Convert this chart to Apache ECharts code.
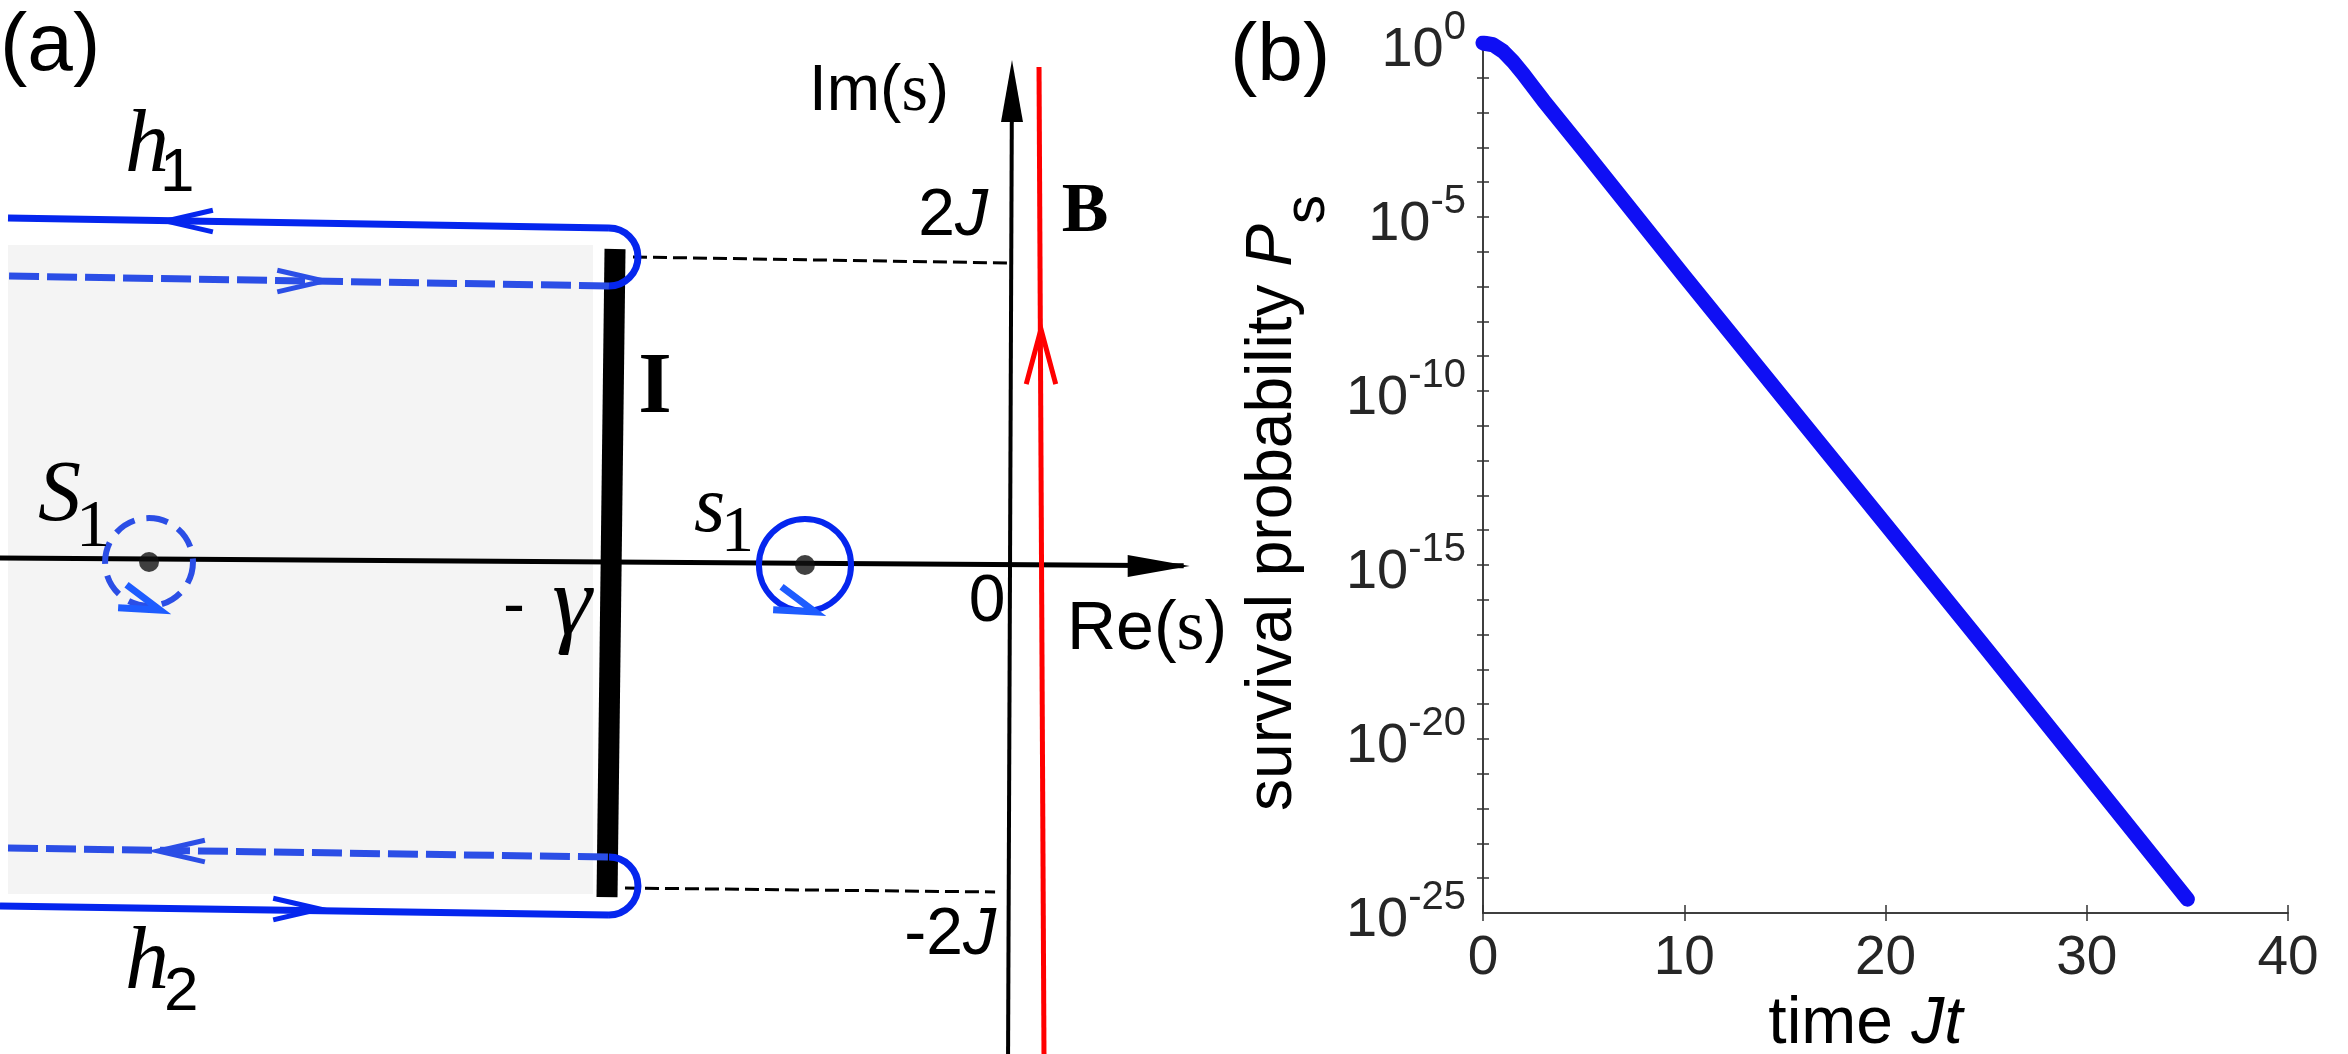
<!DOCTYPE html>
<html>
<head>
<meta charset="UTF-8">
<title>contour and survival probability</title>
<script src="https://cdn.jsdelivr.net/npm/echarts@6/dist/echarts.min.js"></script>
<style>
  html, body { margin: 0; padding: 0; background: #fff; }
</style>
</head>
<body>
	<div id="main" style="width: 2348px;height:1054px;"></div>
	<script type="text/javascript">
	// ---- panel (b): survival probability ----
	var timeJt   = [0, 0.5, 1, 1.5, 2, 2.5, 3, 5, 10, 15, 20, 25, 30, 35];
	var survival = [1, 0.891, 0.575, 0.288, 0.129, 0.0537, 0.0224, 8.3e-4, 2.0e-7, 5.4e-11, 1.48e-14, 4.0e-18, 1.0e-21, 2.5e-25];
	var xTicks = [0, 10, 20, 30, 40];
	var yLabelExp = [0, -5, -10, -15, -20, -25];

	// ---- panel (a): sketch of the s-plane, units of J ----
	var reAxis = [[-6.69, 0.026], [1.15, -0.024]];
	var imAxis = [[-0.013, -3.26], [0.012, 3.0]];
	var axisTips = [[1.19, -0.026, 0], [0.013, 3.325, -90]];
	var redLine = [[0.225, -3.26], [0.192, 3.278]];
	var redTip = [[0.205, 1.543, -90]];
	var branchCut = [[-2.669, -2.219], [-2.616, 2.073]];
	var shadedBox = [[-6.636, 2.099, -2.762, -2.199]];
	var h1Solid = [[-6.636, 2.278], [-2.656, 2.212]];
	var h1Dashed = [[-2.656, 1.828], [-6.636, 1.894]];
	var h2Dashed = [[-6.636, -1.894], [-2.656, -1.954]];
	var h2Solid = [[-2.656, -2.338], [-6.689, -2.278]];
	var turns = [[-2.656, 2.020, 0.192], [-2.656, -2.146, 0.192]];
	var guideTop = [[-2.497, 2.020], [0.007, 1.980]];
	var guideBottom = [[-2.550, -2.159], [-0.099, -2.185]];
	var solidTips = [[-5.589, 2.258, 180], [-4.570, -2.298, 0]];
	var dashedTips = [[-4.543, 1.861, 0], [-5.642, -1.914, 180]];
	var poles = [[-5.702, 0], [-1.358, -0.02]];
	var loopS1 = [[-5.702, 0, 0.291]];
	var loops1 = [[-1.358, -0.02, 0.305]];
	var loopTips = [[-5.629, -0.318, 20], [-1.291, -0.331, 20]];

	var BLUE = '#0526ee', BLUE_D = '#2b4ee6', BLUE_L = '#1e5cff';
	var SANS = 'Liberation Sans', SERIF = 'Liberation Serif';

	function seg(data, color, width, type, z) {
		return {
			type: 'line', xAxisIndex: 0, yAxisIndex: 0, data: data,
			showSymbol: false, silent: true, z: z,
			lineStyle: { color: color, width: width, type: type || 'solid', cap: 'butt' }
		};
	}
	function chevron(len, spread, color, width) {
		return function (params, api) {
			var tip = api.coord([api.value(0), api.value(1)]);
			var a = api.value(2) * Math.PI / 180, s = spread * Math.PI / 180;
			var p1 = [tip[0] - len * Math.cos(a - s), tip[1] - len * Math.sin(a - s)];
			var p2 = [tip[0] - len * Math.cos(a + s), tip[1] - len * Math.sin(a + s)];
			return { type: 'polyline', shape: { points: [p1, tip, p2] },
				style: { stroke: color, lineWidth: width, fill: null, lineJoin: 'miter' } };
		};
	}
	function headFilled(len, half) {
		return function (params, api) {
			var tip = api.coord([api.value(0), api.value(1)]);
			var a = api.value(2) * Math.PI / 180;
			var bx = tip[0] - len * Math.cos(a), by = tip[1] - len * Math.sin(a);
			var nx = -Math.sin(a) * half, ny = Math.cos(a) * half;
			return { type: 'polygon', shape: { points: [tip, [bx + nx, by + ny], [bx - nx, by - ny]] },
				style: { fill: '#000' } };
		};
	}
	function ring(color, width, dash) {
		return function (params, api) {
			var c = api.coord([api.value(0), api.value(1)]);
			var r = api.size([api.value(2), 0])[0];
			return { type: 'circle', shape: { cx: c[0], cy: c[1], r: r },
				style: { stroke: color, lineWidth: width, fill: null, lineDash: dash || null } };
		};
	}
	function custom(data, render, z) {
		return { type: 'custom', xAxisIndex: 0, yAxisIndex: 0, data: data, renderItem: render, silent: true, z: z };
	}

	function txt(x, y, text, font, size, align, extra) {
		var st = { text: text, fontFamily: font, fontSize: size, fill: '#000', align: align || 'left', verticalAlign: 'middle' };
		for (var k in extra) st[k] = extra[k];
		return { type: 'text', x: x, y: y, z: 100, style: st };
	}

	var chartDom = document.getElementById('main');
	var myChart = echarts.init(chartDom);

	var tickStyle = { color: '#333', width: 1.5 };
	var powRich = {
		b: { fontSize: 56, fontFamily: SANS, color: '#262626', padding: [16, 0, 0, 0] },
		s: { fontSize: 40, fontFamily: SANS, color: '#262626', padding: [0, 0, 30, 0] }
	};
	var option = {
		animation: false,
		backgroundColor: '#fff',
		grid: [
			{ left: 0, top: 0, width: 1240, height: 1054, outerBoundsMode: 'none', containLabel: false },
			{ left: 1483, top: 43, width: 805, height: 870, outerBoundsMode: 'none', containLabel: false }
		],
		xAxis: [
			{ gridIndex: 0, type: 'value', min: -6.689, max: 1.523, show: false },
			{ gridIndex: 1, type: 'value', min: xTicks[0], max: xTicks[xTicks.length - 1], interval: 10,
				axisLine: { lineStyle: tickStyle }, axisTick: { inside: true, length: 8, lineStyle: tickStyle },
				splitLine: { show: false },
				axisLabel: { fontSize: 55, fontFamily: SANS, color: '#262626', margin: 18, showMinLabel: true, showMaxLabel: true },
				name: '{a|time }{b|Jt}', nameLocation: 'middle', nameGap: 79,
				nameTextStyle: { fontSize: 66, fontFamily: SANS, color: '#000',
					rich: { a: { fontSize: 66, fontFamily: SANS }, b: { fontSize: 66, fontFamily: SANS, fontStyle: 'italic', padding: [0, 40, 0, 0] } } } },
			{ gridIndex: 1, type: 'value', position: 'top', min: xTicks[0], max: xTicks[xTicks.length - 1], interval: 10,
				axisLine: { lineStyle: tickStyle }, axisTick: { inside: true, length: 8, lineStyle: tickStyle },
				axisLabel: { show: false }, splitLine: { show: false } }
		],
		yAxis: [
			{ gridIndex: 0, type: 'value', min: -3.258, max: 3.722, show: false },
			{ gridIndex: 1, type: 'log', logBase: 10, min: 0.9999999 * Math.pow(10, yLabelExp[yLabelExp.length - 1]), max: Math.pow(10, yLabelExp[0]), interval: 1,
				axisLine: { lineStyle: tickStyle }, axisTick: { inside: true, length: 6, lineStyle: tickStyle },
				splitLine: { show: false },
				// power-of-ten labels are placed below from this axis' own scale
				axisLabel: { show: false },
				nameMoveOverlap: false,
				name: '{n|survival probability }{p|P}{s|s}', nameLocation: 'middle', nameGap: 146,
				nameTextStyle: { color: '#000',
					rich: {
						n: { fontSize: 64, fontFamily: SANS },
						p: { fontSize: 64, fontFamily: SANS, fontStyle: 'italic' },
						s: { fontSize: 58, fontFamily: SANS, padding: [70, 50, 0, 0] }
					} } },
			{ gridIndex: 1, type: 'log', logBase: 10, position: 'right', min: 0.9999999 * Math.pow(10, yLabelExp[yLabelExp.length - 1]), max: Math.pow(10, yLabelExp[0]), interval: 1,
				axisLine: { lineStyle: tickStyle }, axisTick: { inside: true, length: 6, lineStyle: tickStyle },
				axisLabel: { show: false }, splitLine: { show: false } }
		],
		series: [
			// panel (a)
			custom(shadedBox, function (params, api) {
				var p0 = api.coord([api.value(0), api.value(1)]);
				var p1 = api.coord([api.value(2), api.value(3)]);
				return { type: 'rect', shape: { x: Math.min(p0[0], p1[0]), y: Math.min(p0[1], p1[1]),
					width: Math.abs(p1[0] - p0[0]), height: Math.abs(p1[1] - p0[1]) }, style: { fill: '#f4f4f4' } };
			}, 0),
			seg(reAxis, '#000', 5, 'solid', 1),
			seg(imAxis, '#000', 4, 'solid', 1),
			custom(axisTips, headFilled(62, 11), 2),
			seg(guideTop, '#000', 3, [14, 6], 1),
			seg(guideBottom, '#000', 3, [14, 6], 1),
			seg(branchCut, '#000', 21, 'solid', 2),
			seg(redLine, '#ff0000', 5, 'solid', 2),
			custom(redTip, chevron(57, 15, '#ff0000', 5), 2),
			seg(h1Solid, BLUE, 7, 'solid', 3),
			seg(h2Solid, BLUE, 7, 'solid', 3),
			seg(h1Dashed, BLUE_D, 7, [30, 8], 3),
			seg(h2Dashed, BLUE_D, 7, [30, 8], 3),
			custom(turns, function (params, api) {
				var c = api.coord([api.value(0), api.value(1)]);
				var r = api.size([0, api.value(2)])[1];
				return { type: 'arc', shape: { cx: c[0], cy: c[1], r: r, startAngle: -Math.PI / 2, endAngle: Math.PI / 2, clockwise: true },
					style: { stroke: BLUE, lineWidth: 7, fill: null } };
			}, 4),
			custom(solidTips, chevron(48, 13, BLUE, 5), 4),
			custom(dashedTips, chevron(48, 13, BLUE_D, 5), 4),
			custom(loopS1, ring(BLUE_D, 6, [22, 12]), 4),
			custom(loops1, ring(BLUE, 6), 4),
			custom(loopTips, chevron(42, 17, BLUE_L, 7), 4),
			{ type: 'scatter', xAxisIndex: 0, yAxisIndex: 0, data: poles, symbolSize: 20, silent: true, z: 5,
				itemStyle: { color: '#111' } },
			// panel (b)
			{ type: 'line', xAxisIndex: 1, yAxisIndex: 1, name: 'P_s',
				data: timeJt.map(function (t, i) { return [t, survival[i]]; }),
				showSymbol: false, silent: true, z: 5,
				lineStyle: { color: '#0f0ff4', width: 15, cap: 'round', join: 'round' } }
		],
		graphic: [
			txt(0, 47, '(a)', SANS, 82),
			txt(1230, 57, '(b)', SANS, 82),
			txt(125, 148, 'h', SERIF, 88, 'left', { fontStyle: 'italic' }),
			txt(160, 174, '1', SANS, 62),
			txt(125, 965, 'h', SERIF, 88, 'left', { fontStyle: 'italic' }),
			txt(164, 993, '2', SANS, 62),
			txt(38, 497, 'S', SERIF, 86, 'left', { fontStyle: 'italic' }),
			txt(76, 528, '1', SERIF, 68),
			txt(694, 510, 's', SERIF, 80, 'left', { fontStyle: 'italic' }),
			txt(721, 534, '1', SERIF, 66),
			txt(655, 390, 'I', SERIF, 86, 'center', { fontWeight: 'bold' }),
			txt(1085, 213, 'B', SERIF, 70, 'center', { fontWeight: 'bold' }),
			txt(809, 92, '{a|Im(}{b|s}{a|)}', SANS, 64, 'left', { rich: { a: { fontFamily: SANS, fontSize: 64 }, b: { fontFamily: SERIF, fontSize: 68 } } }),
			txt(1067, 630, '{a|Re(}{b|s}{a|)}', SANS, 68, 'left', { rich: { a: { fontFamily: SANS, fontSize: 68 }, b: { fontFamily: SERIF, fontSize: 72 } } }),
			txt(988, 217, '{a|2}{b|J}', SANS, 66, 'right', { rich: { a: { fontFamily: SANS, fontSize: 66 }, b: { fontFamily: SANS, fontSize: 66, fontStyle: 'italic' } } }),
			txt(996, 936, '{a|-2}{b|J}', SANS, 66, 'right', { rich: { a: { fontFamily: SANS, fontSize: 66 }, b: { fontFamily: SANS, fontSize: 66, fontStyle: 'italic' } } }),
			txt(987, 603, '0', SANS, 66, 'center'),
			txt(503, 608, '-', SANS, 66),
			txt(572, 608, 'γ', SERIF, 100, 'center', { fontStyle: 'italic' })
		]
	};
	myChart.setOption(option);

	// y tick labels 10^n, positioned through the log axis
	var axisX = myChart.convertToPixel({ xAxisIndex: 1 }, xTicks[0]);
	var yLabels = yLabelExp.map(function (e) {
		var py = myChart.convertToPixel({ yAxisIndex: 1 }, Math.pow(10, e));
		return txt(axisX - 17, py, '{b|10}{s|' + e + '}', SANS, 56, 'right', { fill: '#262626', rich: powRich });
	});
	myChart.setOption({ graphic: option.graphic.concat(yLabels) });
	</script>
</body>
</html>
